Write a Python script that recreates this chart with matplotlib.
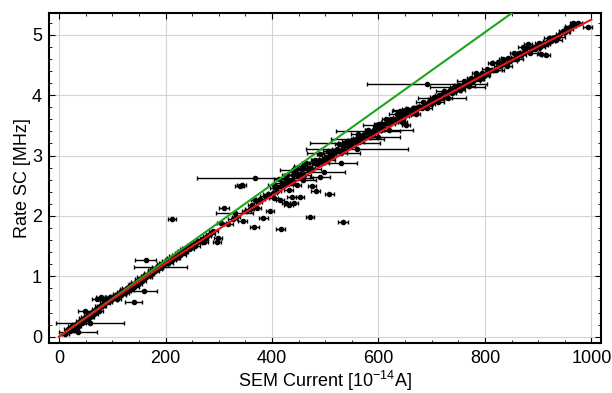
import matplotlib
matplotlib.use('Agg')
import matplotlib.pyplot as plt
from matplotlib.ticker import MultipleLocator

plt.rcParams['font.family'] = ['Liberation Sans', 'DejaVu Sans']
plt.rcParams['mathtext.fontset'] = 'custom'
plt.rcParams['mathtext.rm'] = 'Liberation Sans'
plt.rcParams['mathtext.default'] = 'regular'

# low current part of the band: SEM current [1e-14 A], rate [MHz], x error
low_x = [12, 16, 20, 24, 28, 32, 35, 39, 43, 47,
         49, 52, 55, 59, 62, 66, 70, 72, 75, 78,
         80, 84, 86, 90, 92, 95, 98, 102, 105, 108,
         112, 116, 120, 124, 128, 132, 136, 140, 144, 148,
         152, 156, 160, 164, 168, 172, 176, 180, 184, 188,
         192, 196, 200, 204, 208, 212, 216, 220, 224, 228,
         232, 236, 240, 245, 250, 255, 260, 266, 272]
low_y = [0.05, 0.12, 0.09, 0.17, 0.13, 0.21, 0.18, 0.26, 0.23, 0.31,
         0.43, 0.29, 0.36, 0.33, 0.41, 0.38, 0.46, 0.62, 0.43, 0.65,
         0.51, 0.60, 0.55, 0.63, 0.58, 0.66, 0.61, 0.64, 0.68, 0.63,
         0.71, 0.69, 0.76, 0.73, 0.80, 0.78, 0.85, 0.83, 0.90, 0.88,
         0.95, 0.93, 1.00, 0.98, 1.05, 1.03, 1.10, 1.08, 1.15, 1.13,
         1.20, 1.18, 1.25, 1.22, 1.29, 1.27, 1.33, 1.31, 1.38, 1.36,
         1.42, 1.40, 1.47, 1.45, 1.52, 1.50, 1.56, 1.58, 1.61]
low_err = [7, 6, 8, 7, 9, 7, 6, 8, 7, 9,
           13, 7, 8, 6, 9, 7, 8, 10, 7, 9,
           8, 7, 9, 12, 7, 8, 10, 7, 9, 8,
           7, 10, 8, 7, 9, 8, 7, 10, 8, 7,
           9, 8, 7, 10, 8, 7, 9, 8, 10, 7,
           8, 9, 7, 10, 8, 7, 9, 8, 7, 10,
           8, 7, 9, 8, 7, 10, 8, 9, 7]

# second pass through the low band
low2_x = [30, 41, 53, 64, 77, 88, 100, 110, 118, 126,
          134, 142, 150, 158, 166, 174, 182, 190, 198, 206,
          214, 222, 230, 238, 248, 258, 268]
low2_y = [0.17, 0.25, 0.33, 0.40, 0.50, 0.59, 0.66, 0.70, 0.74, 0.79,
          0.83, 0.88, 0.92, 0.98, 1.02, 1.07, 1.12, 1.17, 1.22, 1.27,
          1.31, 1.36, 1.41, 1.45, 1.50, 1.55, 1.62]
low2_err = [9, 7, 11, 8, 10, 7, 12, 8, 9, 11,
            7, 10, 8, 12, 9, 7, 11, 8, 10, 7,
            12, 9, 8, 10, 7, 11, 9]

# scattered points in the middle range
mid_x = [58, 35, 160, 140, 190, 163,
         212, 272, 297, 299, 305, 310, 339, 343, 345, 330,
         367, 368, 368, 374, 384, 396, 403, 415, 416, 426,
         431, 431, 434, 437, 441, 447, 453, 471, 475, 482,
         508, 533, 278, 284, 290, 318, 326, 332, 352, 358,
         362, 378, 386, 392, 372]
mid_y = [0.22, 0.08, 0.75, 0.58, 1.16, 1.27,
         1.95, 1.56, 1.56, 1.63, 1.89, 2.13, 2.49, 2.51, 1.92, 2.05,
         1.82, 2.62, 2.26, 2.23, 1.96, 2.08, 2.30, 2.26, 1.78, 2.21,
         2.18, 2.43, 2.54, 2.32, 2.21, 2.51, 2.32, 1.98, 2.50, 2.41,
         2.37, 1.90, 1.66, 1.70, 1.75, 1.86, 1.95, 1.98, 2.08, 2.12,
         2.18, 2.28, 2.33, 2.37, 2.13]
mid_err = [64, 36, 24, 16, 50, 20,
           8, 8, 8, 8, 8, 9, 8, 8, 8, 35,
           8, 109, 8, 8, 8, 8, 8, 8, 8, 8,
           8, 8, 8, 8, 8, 8, 8, 8, 8, 8,
           8, 9, 8, 8, 9, 8, 8, 8, 8, 8,
           8, 8, 8, 8, 8]

# high current part of the band
high_x = [401, 404, 409, 413, 418, 424, 429, 436, 439, 446,
          449, 456, 461, 464, 471, 474, 481, 484, 491, 494,
          501, 506, 509, 516, 519, 526, 529, 536, 541, 544,
          551, 554, 561, 564, 571, 574, 581, 584, 591, 594,
          601, 604, 611, 614, 621, 624, 631, 634, 641, 644,
          651, 654, 661, 664, 671, 674, 681, 684, 691, 694,
          701, 704, 711, 714, 721, 724, 731, 734, 741, 744,
          751, 754, 761, 764, 771, 774, 781, 784, 791, 794,
          801, 804, 811, 814, 821, 824, 831, 834, 841, 844,
          851, 854, 861, 864, 871, 874, 881, 884, 891, 894,
          901, 904, 911, 914, 921, 924, 931, 934, 941, 946,
          951, 956, 961, 966, 970]
high_y = [2.38, 2.51, 2.41, 2.61, 2.54, 2.53, 2.67, 2.55, 2.67, 2.79,
          2.66, 2.78, 2.67, 2.87, 2.80, 2.77, 2.92, 2.86, 3.02, 2.87,
          2.98, 3.07, 2.97, 3.08, 3.05, 3.19, 3.04, 3.16, 3.24, 3.14,
          3.25, 3.22, 3.36, 3.23, 3.34, 3.33, 3.43, 3.32, 3.43, 3.41,
          3.52, 3.43, 3.52, 3.60, 3.52, 3.61, 3.60, 3.68, 3.59, 3.70,
          3.67, 3.77, 3.70, 3.78, 3.69, 3.81, 3.78, 3.89, 3.78, 3.89,
          3.89, 3.97, 3.89, 4.00, 3.98, 4.06, 3.96, 4.08, 4.14, 4.07,
          4.16, 4.09, 4.23, 4.20, 4.15, 4.29, 4.26, 4.36, 4.27, 4.37,
          4.33, 4.44, 4.42, 4.53, 4.42, 4.54, 4.51, 4.60, 4.49, 4.61,
          4.60, 4.70, 4.59, 4.70, 4.79, 4.72, 4.85, 4.69, 4.80, 4.76,
          4.86, 4.79, 4.87, 4.84, 4.94, 4.90, 4.97, 4.92, 5.01, 5.06,
          5.04, 5.11, 5.15, 5.20, 5.18]
high_err = [8, 12, 7, 9, 14, 7, 10, 8, 16, 7,
            9, 8, 12, 7, 10, 18, 8, 9, 7, 13,
            8, 10, 7, 15, 9, 8, 11, 7, 9, 14,
            8, 7, 12, 9, 8, 16, 7, 10, 8, 11,
            9, 7, 13, 8, 10, 7, 9, 15, 8, 7,
            11, 9, 8, 12, 7, 10, 8, 14, 9, 7,
            10, 8, 12, 7, 9, 16, 8, 10, 7, 11,
            9, 8, 13, 7, 10, 8, 15, 9, 7, 12,
            8, 10, 7, 9, 14, 8, 11, 7, 9, 13,
            8, 7, 10, 12, 8, 9, 7, 15, 8, 10,
            7, 9, 12, 8, 10, 7, 9, 11, 8, 7,
            9, 8, 10, 7, 9]

# second pass through the high band
high2_x = [407, 417, 427, 433, 443, 453, 458, 468, 478, 488,
           497, 503, 513, 523, 533, 538, 548, 558, 568, 578,
           588, 598, 608, 618, 628, 638, 648, 658, 668, 678,
           688, 698, 708, 718, 728, 738, 748, 758, 768, 778,
           788, 798, 808, 818, 828, 838, 848, 858, 868, 878,
           888, 898, 908, 918, 928, 938, 948, 958]
high2_y = [2.47, 2.50, 2.61, 2.57, 2.72, 2.70, 2.83, 2.77, 2.87, 2.93,
           2.95, 2.93, 3.03, 3.10, 3.09, 3.21, 3.19, 3.28, 3.29, 3.37,
           3.38, 3.47, 3.48, 3.56, 3.56, 3.64, 3.66, 3.73, 3.73, 3.80,
           3.83, 3.85, 3.93, 3.95, 4.03, 4.04, 4.11, 4.13, 4.21, 4.23,
           4.31, 4.32, 4.40, 4.41, 4.49, 4.53, 4.57, 4.63, 4.67, 4.78,
           4.77, 4.81, 4.83, 4.89, 4.95, 4.96, 5.04, 5.09]
high2_err = [11, 8, 14, 9, 12, 7, 17, 10, 8, 13,
             9, 15, 8, 11, 7, 14, 10, 9, 16, 8,
             12, 9, 10, 14, 8, 11, 9, 13, 7, 10,
             12, 8, 15, 9, 11, 8, 10, 13, 7, 12,
             9, 10, 8, 14, 11, 7, 12, 9, 10, 8,
             13, 9, 11, 8, 10, 12, 9, 8]

# extra points around the upper band, incl. long error bars
extra_x = [993, 975, 905, 915, 652, 645, 691, 748, 720, 650,
           560, 537, 515, 530, 498, 596, 640, 490, 458, 440,
           600, 620, 560, 580]
extra_y = [5.13, 5.19, 4.68, 4.66, 3.50, 3.55, 4.18, 4.14, 3.95, 3.75,
           3.10, 3.20, 3.04, 2.87, 2.73, 3.50, 3.73, 2.65, 2.59, 2.76,
           3.30, 3.42, 3.27, 3.40]
extra_err = [8, 8, 8, 8, 8, 8, 112, 52, 45, 22,
             96, 66, 50, 30, 40, 25, 14, 19, 25, 25,
             40, 45, 50, 60]

# fits
fit_x = [0, 100, 200, 300, 400, 500, 600, 700, 800, 900, 1000]
red_fit = [0, 0.618, 1.212, 1.783, 2.333, 2.864, 3.375, 3.868, 4.345, 4.805, 5.25]
green_x = [0, 1000]
green_y = [0, 6.3]

sem = low_x + low2_x + mid_x + high_x + high2_x + extra_x
rate = low_y + low2_y + mid_y + high_y + high2_y + extra_y
sem_err = low_err + low2_err + mid_err + high_err + high2_err + extra_err

fig = plt.figure(figsize=(6.12, 3.93), dpi=100)
ax = fig.add_axes([0.080, 0.127, 0.902, 0.840])
ax.set_axisbelow(True)
ax.errorbar(sem, rate, xerr=sem_err, fmt='o', color='black', ms=3.0,
            elinewidth=1.0, capsize=1.6, capthick=1.0, zorder=2)
ax.plot(green_x, green_y, color='#1ca61c', lw=1.5, zorder=3)
ax.plot(fit_x, red_fit, color='#e6161c', lw=1.5, zorder=4)

ax.set_xlim(-19, 1018)
ax.set_ylim(-0.106, 5.36)
ax.xaxis.set_major_locator(MultipleLocator(200))
ax.xaxis.set_minor_locator(MultipleLocator(50))
ax.yaxis.set_major_locator(MultipleLocator(1))
ax.yaxis.set_minor_locator(MultipleLocator(0.2))
ax.tick_params(which='both', direction='in', top=True, right=True,
               labelsize=13, pad=5)
ax.tick_params(which='major', length=4, width=0.8)
ax.tick_params(which='minor', length=2.5, width=0.6)
ax.grid(which='major', color='#d4d4d4', lw=0.8)
for s in ax.spines.values():
    s.set_linewidth(1.5)

ax.set_xlabel('SEM Current [10$^{-14}$A]', fontsize=13, labelpad=1)
ax.set_ylabel('Rate SC [MHz]', fontsize=13, labelpad=1)

fig.savefig('out.png', dpi=100)
